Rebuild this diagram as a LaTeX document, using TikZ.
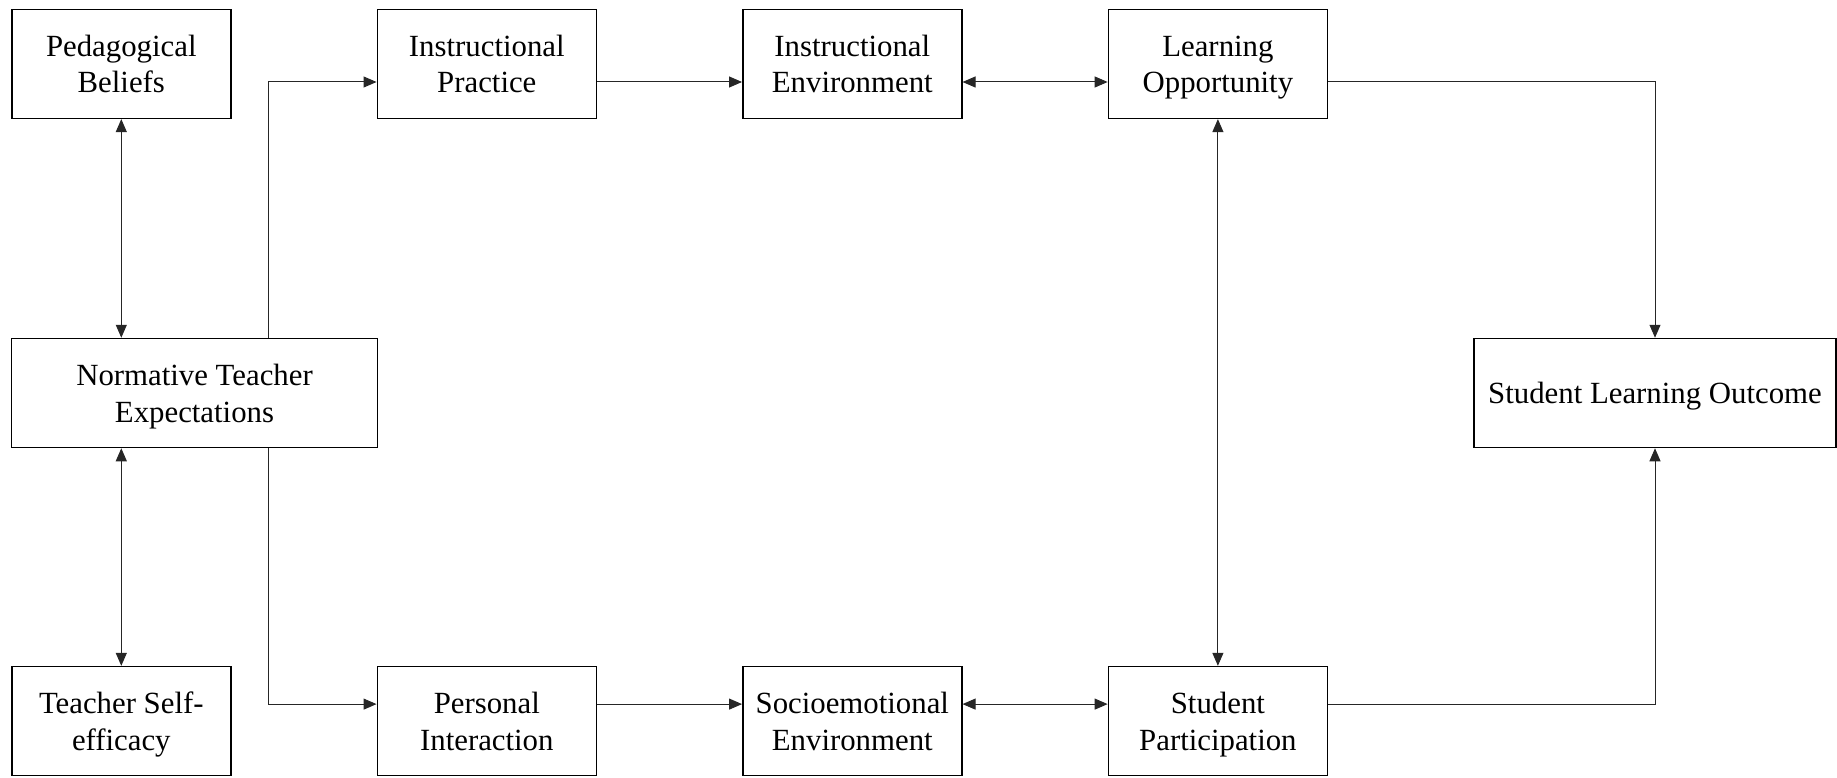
\documentclass[tikz,border=0pt]{standalone}
\usepackage{fontspec}
\setmainfont{Liberation Serif}
\usetikzlibrary{arrows.meta}
\newcommand{\ls}{\rule[-7.5pt]{0pt}{36.5pt}}
\begin{document}
\begin{tikzpicture}[x=1pt,y=1pt,
  box/.style={draw, line width=1.5pt, minimum width=219pt, minimum height=109pt, align=center, inner sep=0pt, font=\fontsize{30.8}{36.5}\selectfont},
  conn/.style={line width=1pt, draw=black!85},
  tip/.style={-{Triangle[length=13pt,width=11pt]}},
  tips/.style={{Triangle[length=13pt,width=11pt]}-{Triangle[length=13pt,width=11pt]}}]
\useasboundingbox (0,0) rectangle (1837,-778);
% top row
\node[box] (pb) at (121.3,-63.85) {\ls Pedagogical\\\ls Beliefs};
\node[box] (ip) at (486.8,-63.85) {\ls Instructional\\\ls Practice};
\node[box] (ie) at (852.3,-63.85) {\ls Instructional\\\ls Environment};
\node[box] (lo) at (1217.9,-63.85) {\ls Learning\\\ls Opportunity};
% middle row
\node[box, minimum width=365.6pt] (nte) at (194.5,-393) {\ls Normative Teacher\\\ls Expectations};
\node[box, minimum width=362pt] (slo) at (1655,-393) {\ls Student Learning Outcome};
% bottom row
\node[box] (tse) at (121.3,-721.1) {\ls Teacher Self-\\\ls efficacy};
\node[box] (pi) at (486.8,-721.1) {\ls Personal\\\ls Interaction};
\node[box] (se) at (852.3,-721.1) {\ls Socioemotional\\\ls Environment};
\node[box] (sp) at (1217.9,-721.1) {\ls Student\\\ls Participation};
% routing levels
\coordinate (toprow) at (0,-82);
\coordinate (botrow) at (0,-704.1);
\coordinate (split) at (268.3,0);
% connectors
\draw[conn,tips] (pb.south) -- (nte.north -| pb.south);
\draw[conn,tips] (nte.south -| tse.north) -- (tse.north);
\draw[conn,tip] (split |- nte.north) -- (split |- toprow) -- (ip.west |- toprow);
\draw[conn,tip] (split |- nte.south) -- (split |- botrow) -- (pi.west |- botrow);
\draw[conn,tip] (ip.east |- toprow) -- (ie.west |- toprow);
\draw[conn,tips] (ie.east |- toprow) -- (lo.west |- toprow);
\draw[conn,tip] (pi.east |- botrow) -- (se.west |- botrow);
\draw[conn,tips] (se.east |- botrow) -- (sp.west |- botrow);
\draw[conn,tips] (lo.south) -- (sp.north);
\draw[conn,tip] (lo.east |- toprow) -- (slo.north |- toprow) -- (slo.north);
\draw[conn,tip] (sp.east |- botrow) -- (slo.south |- botrow) -- (slo.south);
\end{tikzpicture}
\end{document}
